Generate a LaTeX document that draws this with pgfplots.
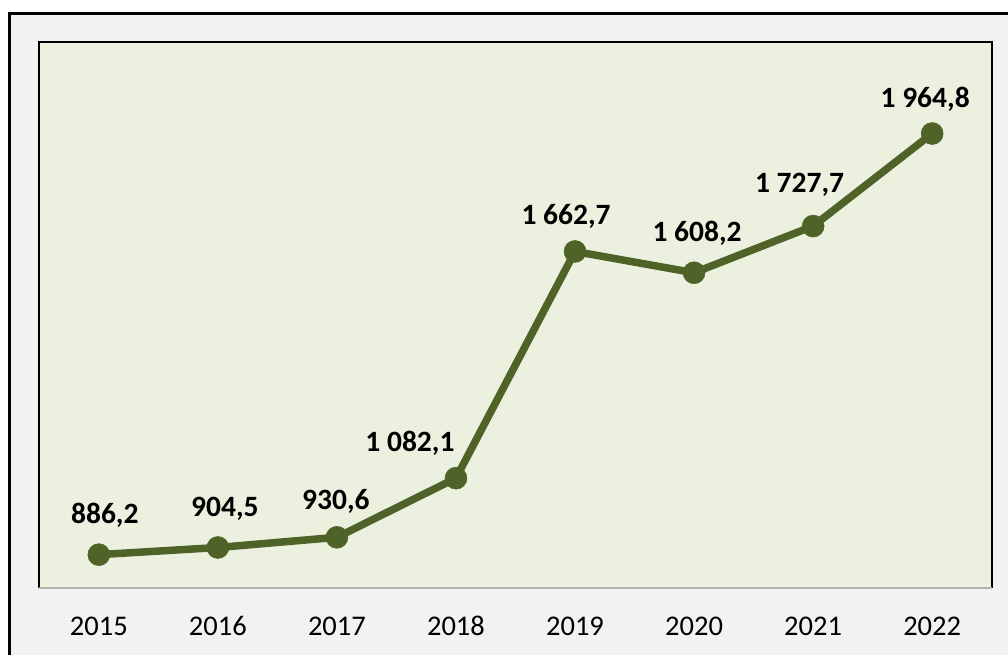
\documentclass[border=0pt]{standalone}
\usepackage{pgfplots}
\pgfplotsset{compat=1.18}
\usepackage{pgfplotstable}
\usepackage{fontspec}
\setmainfont{Carlito}
\definecolor{framebg}{HTML}{F2F2F2}
\definecolor{plotbg}{HTML}{EBF1DE}
\definecolor{olive}{HTML}{4F6228}
\pgfplotstableread{
x y dx dy
0 886.2 6 31
1 904.5 7 31
2 930.6 -1 28
3 1082.1 -46 27
4 1662.7 -9 27
5 1608.2 3 31
6 1727.7 -13.6 34
7 1964.8 -7 26
}\datatable
\begin{document}
\begin{tikzpicture}[x=1pt,y=1pt]
\useasboundingbox (0,0) rectangle (1008,654);
\begin{scope}
\clip (0,0) rectangle (1008,654);
\fill[white] (0,0) rectangle (1008,654);
\filldraw[fill=framebg, draw=black, line width=3.5pt] (9.7,-30) rectangle (1040,640.5);
\end{scope}
\begin{axis}[
  at={(39.3pt,65.7pt)}, anchor=south west,
  width=952.4pt, height=546.6pt, scale only axis,
  xmin=-0.5, xmax=7.5, ymin=800, ymax=2200,
  axis line style={draw=none},
  axis background/.style={fill=plotbg},
  xtick={0,1,2,3,4,5,6,7},
  xticklabels={2015,2016,2017,2018,2019,2020,2021,2022},
  major tick length=0pt, ytick=\empty,
  xticklabel style={anchor=base, yshift=-46.7pt, font=\fontsize{28.5}{34}\selectfont},
  clip=false,
]
\draw[black, line width=2pt] (rel axis cs:0,0) -- (rel axis cs:0,1) -- (rel axis cs:1,1) -- (rel axis cs:1,0);
\draw[gray!60, line width=2pt] (rel axis cs:0,0) -- (rel axis cs:1,0);
\addplot[olive, line width=7.5pt, mark=*, mark size=11pt,
  mark options={fill=olive, line width=0.5pt},
  point meta=explicit,
  visualization depends on={\thisrow{dx} \as \dx},
  visualization depends on={\thisrow{dy} \as \dy},
  nodes near coords={\pgfmathprintnumber[fixed,fixed zerofill,precision=1,use comma,1000 sep={\ },assume math mode=true]{\pgfplotspointmeta}},
  nodes near coords style={anchor=base, inner sep=0pt, xshift=\dx pt, yshift=\dy pt, text=black, font=\bfseries\fontsize{29.5}{35}\selectfont},
] table[x=x,y=y,meta=y] {\datatable};
\end{axis}
\end{tikzpicture}
\end{document}
